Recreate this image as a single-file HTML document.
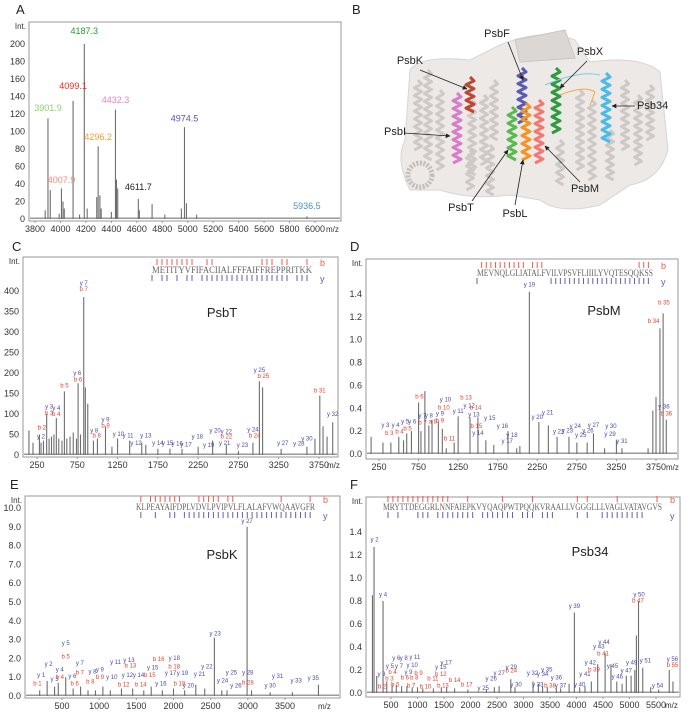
<!DOCTYPE html>
<html><head><meta charset="utf-8">
<style>
html,body{margin:0;padding:0;background:#fff;}
svg{display:block;font-family:"Liberation Sans",sans-serif;}
</style></head>
<body>
<svg id="fig" width="700" height="720" viewBox="0 0 700 720" xmlns="http://www.w3.org/2000/svg">
<rect width="700" height="720" fill="#fff"/>
<g id="structure"></g>
</svg>
<script>
// ===== Panel A data =====
const aMz  = [3880,3901.9,3920,3990,4007.9,4020,4030,4099.1,4150,4187.3,4210,4285,4296.2,4310,4320,4400,4432.3,4440,4450,4611.7,4620,4720,4820,4950,4974.5,4990,5070,5936.5];
const aInt = [10,115,33,6,35,20,12,135,5,200,12,25,83,27,12,8,125,45,35,23,10,17,5,12,105,18,5,3];
const aLabels = ["3901.9","4007.9","4099.1","4187.3","4296.2","4432.3","4611.7","4974.5","5936.5"];
const aLabelMz = [3901.9,4007.9,4099.1,4187.3,4296.2,4432.3,4611.7,4974.5,5936.5];
const aLabelInt = [120,38,145,208,87,129,30,108,8];
const aLabelColors = ["#8fcf6c","#f28a80","#e0301e","#19a032","#f0a030","#f07fc0","#222","#5555a8","#4a90c0"];
const aXTicks = [3800,4000,4200,4400,4600,4800,5000,5200,5400,5600,5800,6000];
const aYTicks = [0,20,40,60,80,100,120,140,160,180,200];

// ===== Panel C (PsbT) data =====
const cMz  = [150,200,280,300,330,370,400,430,460,490,520,560,590,620,660,700,740,760,790,830,850,880,950,1000,1100,1180,1250,1400,1550,1600,1750,1900,2050,2250,2430,2600,2750,2930,3010,3050,3280,3600,3700,3760,3800,3850,3920];
const cInt = [60,30,50,30,35,100,40,45,50,90,40,35,155,40,45,55,40,175,50,385,165,125,35,40,70,20,40,35,30,25,15,15,15,20,35,25,10,30,180,165,15,20,40,145,70,45,80];
const cLabels = ["y 2","b 2","y 3","b 3","y 4","b 4","b 5","y 6","b 6","y 7","b 7","y 8","b 8","y 9","b 9","y 10","y 11","y 12","y 13","y 14","y 15","y 16","y 17","y 18","y 19","y 20","y 21","y 22","b 22","y 23","y 24","b 24","y 25","b 25","y 27","y 28","y 30","b 31","y 32"];
const cLabelMz = [300,310,400,400,490,490,590,750,760,830,830,960,990,1100,1100,1260,1380,1480,1600,1750,1870,1990,2100,2240,2380,2460,2580,2600,2600,2800,2930,2950,3010,3060,3300,3500,3600,3760,3920];
const cLabelInt = [35,57,108,93,105,90,160,190,175,410,395,50,38,77,62,42,38,20,38,20,20,18,16,35,15,50,20,48,35,15,53,38,197,183,20,18,30,147,90];
const cXTicks = [250,750,1250,1750,2250,2750,3250,3750];
const cYTicks = [0,50,100,150,200,250,300,350,400];

// ===== Panel D (PsbM) data =====
const dMz  = [150,300,400,500,560,600,660,750,780,830,880,920,1000,1050,1100,1200,1250,1400,1500,1600,1700,1880,1990,2030,2150,2270,2390,2500,2650,2750,2880,2960,3100,3250,3320,3650,3710,3750,3800,3840,3880];
const dInt = [0.15,0.1,0.1,0.15,0.12,0.18,0.2,0.45,0.2,0.55,0.25,0.3,0.28,0.22,0.05,0.1,0.33,0.32,0.32,0.12,0.08,0.2,0.05,0.07,1.42,0.28,0.25,0.15,0.15,0.1,0.1,0.18,0.05,0.12,0.05,0.05,0.38,0.5,1.1,1.23,0.3];
const dLabels = ["y 3","b 3","y 4","b 4","y 5","b 5","y 6","b 6","y 7","b 7","y 8","a 8","y 9","b 9","y 10","b 10","b 11","y 11","b 13","y 12","b 14","y 13","b 15","y 14","y 15","y 16","y 18","y 17","y 19","y 20","y 21","y 22","y 23","y 24","y 25","y 26","y 27","y 29","y 30","y 31","b 34","b 35","y 36","b 36"];
const dLabelMz = [330,380,460,510,580,610,670,760,800,800,880,930,1020,1020,1090,1070,1140,1250,1350,1390,1470,1450,1480,1500,1650,1810,1930,1870,2150,2250,2380,2520,2630,2730,2800,2890,2960,3170,3180,3320,3720,3850,3850,3880];
const dLabelInt = [0.22,0.15,0.22,0.16,0.25,0.19,0.25,0.47,0.3,0.24,0.3,0.25,0.32,0.26,0.44,0.37,0.1,0.34,0.46,0.39,0.37,0.31,0.21,0.15,0.28,0.21,0.13,0.08,1.45,0.29,0.33,0.16,0.17,0.21,0.13,0.17,0.22,0.14,0.21,0.08,1.13,1.29,0.38,0.32];
const dXTicks = [250,750,1250,1750,2250,2750,3250,3750];
const dYTicks = [0,0.2,0.4,0.6,0.8,1.0,1.2,1.4];

// ===== Panel E (PsbK) data =====
const eMz  = [200,300,400,450,550,650,750,850,950,1050,1150,1300,1450,1600,1700,1850,2000,2150,2300,2420,2550,2650,2720,2990,3050,3300,3600,3950];
const eInt = [0.3,0.8,0.5,0.7,1.0,0.4,0.5,0.3,0.3,0.5,0.3,0.4,0.4,0.3,0.5,0.3,0.4,0.3,0.6,0.4,3.1,0.3,0.3,9.0,0.3,0.2,0.2,0.6];
const eLabels = ["b 1","y 1","y 2","y 3","y 4","b 4","y 5","b 5","y 6","b 6","y 7","b 7","b 8","y 8","y 9","b 9","y 10","y 11","b 12","y 12","y 13","b 13","y 14","b 14","b 15","y 15","b 16","y 16","y 17","b 18","y 18","y 19","b 19","y 20","y 21","y 22","y 23","y 24","y 25","y 26","y 27","y 28","b 28","y 30","y 31","y 33","y 35"];
const eLabelMz = [170,220,320,400,470,470,550,550,640,670,740,740,880,910,1010,1010,1170,1220,1330,1380,1400,1420,1530,1560,1680,1720,1800,1830,1960,2010,2010,2120,2080,2200,2350,2450,2560,2660,2780,2840,2990,3000,3000,3300,3400,3650,3880];
const eLabelInt = [0.45,0.9,1.5,0.7,1.2,0.8,2.6,1.9,0.85,0.45,1.55,1.05,0.55,1.1,1.2,0.8,0.8,1.6,0.4,0.9,1.7,1.4,0.9,0.4,0.9,1.3,1.75,0.45,1.0,1.35,1.8,1.0,0.45,0.35,0.95,1.35,3.1,0.6,1.05,0.35,9.1,1.05,0.5,0.35,0.85,0.6,0.75];
const eXTicks = [500,1000,1500,2000,2500,3000,3500];
const eYTicks = [0,1,2,3,4,5,6,7,8,9,10];

// ===== Panel F (Psb34) data =====
const fMz  = [150,180,230,350,420,520,600,700,800,900,1000,1100,1300,1450,1550,1700,1950,2300,2450,2540,2760,2840,3180,3280,3360,3450,3620,3700,3860,3960,4060,4160,4280,4400,4540,4650,4760,4860,4940,5030,5100,5130,5170,5250,5400,5550,5750,5820];
const fInt = [0.85,1.27,0.15,0.8,0.1,0.08,0.07,0.06,0.06,0.05,0.05,0.04,0.04,0.05,0.05,0.04,0.03,0.03,0.05,0.06,0.12,0.05,0.1,0.08,0.06,0.05,0.04,0.04,0.08,0.7,0.05,0.06,0.1,0.25,0.35,0.25,0.1,0.08,0.15,0.15,0.2,0.5,0.8,0.22,0.05,0.03,0.2,0.1];
const fLabels = ["y 2","y 3","b 2","y 4","y 5","b 3","b 4","y 6","y 7","b 5","y 8","b 6","y 9","b 7","y 10","b 8","y 11","b 9","b 10","b 11","y 15","b 12","y 17","b 13","b 14","b 17","y 25","y 26","y 27","y 29","b 24","y 30","y 32","y 33","y 34","y 35","b 38","y 36","y 37","y 39","y 40","y 41","y 42","b 39","y 43","y 44","b 41","y 45","y 46","y 47","y 49","y 50","b 47","y 51","y 54","y 56","b 55"];
const fLabelMz = [190,320,330,350,480,470,530,600,650,580,740,760,830,880,900,940,950,1020,1150,1290,1440,1440,1540,1480,1700,1930,2240,2390,2540,2770,2770,2860,3170,3270,3360,3440,3500,3620,3700,3960,4060,4160,4260,4330,4420,4520,4500,4680,4770,4940,5040,5180,5160,5300,5530,5810,5810];
const fLabelInt = [1.3,0.13,0.02,0.82,0.2,0.09,0.15,0.27,0.2,0.04,0.27,0.1,0.15,0.03,0.21,0.1,0.28,0.14,0.02,0.09,0.19,0.13,0.23,0.03,0.08,0.04,0.01,0.09,0.14,0.19,0.16,0.04,0.14,0.04,0.13,0.17,0.03,0.1,0.03,0.72,0.04,0.13,0.23,0.17,0.37,0.41,0.31,0.2,0.11,0.16,0.23,0.82,0.77,0.25,0.03,0.26,0.21];
const fXTicks = [500,1000,1500,2000,2500,3000,3500,4000,4500,5000,5500];
const fYTicks = [0,0.2,0.4,0.6,0.8,1.0,1.2,1.4];

const NS = "http://www.w3.org/2000/svg";
const svg = document.getElementById('fig');
function mk(tag, attrs, parent){
  const el = document.createElementNS(NS, tag);
  for (const k in attrs) el.setAttribute(k, attrs[k]);
  (parent||svg).appendChild(el);
  return el;
}
function txt(s, x, y, size, color, anchor, parent){
  const t = mk('text', {x:x, y:y, 'font-size':size, fill:color, 'text-anchor':anchor||'start'}, parent);
  t.textContent = s;
  return t;
}

function spectrum(cfg){
  const g = mk('g', {});
  
  
  const sx = v => cfg.px[0] + (v - cfg.xr[0]) / (cfg.xr[1] - cfg.xr[0]) * (cfg.px[1] - cfg.px[0]);
  const sy = v => cfg.py[0] + (v - cfg.yr[0]) / (cfg.yr[1] - cfg.yr[0]) * (cfg.py[1] - cfg.py[0]);
  const box = mk('rect', {x:cfg.box[0], y:cfg.box[1], width:cfg.box[2]-cfg.box[0], height:cfg.box[3]-cfg.box[1], fill:'none', stroke:'#999', 'stroke-width':1}, g);
  
  
  const letter = txt(cfg.letter, cfg.letterPos[0], cfg.letterPos[1], 13, '#222', 'start', g);
  
  
  const intl = txt('Int.', cfg.box[0]-3, cfg.box[1]+7, 8, '#333', 'end', g);
  
  
  const yax = mk('g', {}, g);
  
  
  cfg.yticks.forEach(v => {
    const t = txt(v.toFixed(cfg.dec), cfg.box[0]-4, sy(v)+3, 9, '#333', 'end', yax);
    
    
  });
  const xax = mk('g', {}, g);
  
  
  cfg.xticks.forEach(v => {
    const l = mk('line', {x1:sx(v), x2:sx(v), y1:cfg.box[3], y2:cfg.box[3]+2, stroke:'#999'}, xax);
    
    
    const t = txt(String(v), sx(v), cfg.box[3]+11, 9, '#333', 'middle', xax);
    
    
  });
  const mz = txt('m/z', cfg.mzPos[0], cfg.box[3]+11, 8, '#333', 'start', xax);
  
  
  const base = mk('rect', {x:cfg.box[0]+1, y:sy(cfg.yr[0])-1.5, width:cfg.box[2]-cfg.box[0]-2, height:1.5, fill:'#999'}, g);
  
  
  const pk = mk('g', {}, g);
  
  
  cfg.mzArr.forEach((m, i) => {
    const x = sx(m);
    const p = mk('line', {x1:x, x2:x, y1:sy(0), y2:sy(cfg.intArr[i]), stroke:'#6e6e6e', 'stroke-width':1.1}, pk);
    
    
  });
  const lb = mk('g', {}, g);
  
  
  cfg.labels.forEach((s, i) => {
    let col = cfg.labelColors ? cfg.labelColors[i] : (s[0]==='y' ? '#4b4ba8' : '#e8402a');
    const t = txt(s, sx(cfg.labelMz[i]), sy(cfg.labelInt[i]) - (cfg.big?3:2), cfg.labelSize, col, 'middle', lb);
    
    
  });
  if (cfg.seq){
    const sq = mk('g', {}, g);
    
    
    const s = cfg.seq, n = s.text.length, cw = (s.x1 - s.x0)/n;
    const t = mk('text', {x:s.x0, y:s.y, 'font-size':9, fill:'#666', textLength:s.x1-s.x0, lengthAdjust:'spacingAndGlyphs', 'font-family':'"Liberation Serif",serif'}, sq);
    t.textContent = s.text;
    
    
    s.b.forEach(k => { const l = mk('line', {x1:s.x0+cw*k, x2:s.x0+cw*k, y1:s.y-14, y2:s.y-8, stroke:'#f05a4a', 'stroke-width':1}, sq);   });
    s.yk.forEach(k => { const l = mk('line', {x1:s.x0+cw*k, x2:s.x0+cw*k, y1:s.y+2, y2:s.y+8, stroke:'#6a5ab0', 'stroke-width':1}, sq);   });
    const bl = txt('b', s.x1+8, s.y-7, 9, '#f05a4a', 'start', sq);
    
    
    const yl = txt('y', s.x1+8, s.y+9, 9, '#6a5ab0', 'start', sq);
    
    
  }
  if (cfg.protein){
    const p = txt(cfg.protein[0], cfg.protein[1], cfg.protein[2], 13, '#222', 'middle', g);
    
    
  }
}

spectrum({name:'panel-a-intact-mass-spectrum', letter:'A', letterPos:[16,14], box:[29,22,341,221], xr:[3800,6000], px:[35,315], yr:[0,200], py:[219,44],
  xticks:aXTicks, yticks:aYTicks, dec:0, mzArr:aMz, intArr:aInt, labels:aLabels, labelMz:aLabelMz, labelInt:aLabelInt, labelColors:aLabelColors, labelSize:9, big:true, mzPos:[326,0]});
spectrum({name:'panel-c-psbt-msms', letter:'C', letterPos:[12,251], box:[23,257,338,457], xr:[250,3750], px:[37,319], yr:[0,400], py:[455,291],
  xticks:cXTicks, yticks:cYTicks, dec:0, mzArr:cMz, intArr:cInt, labels:cLabels, labelMz:cLabelMz, labelInt:cLabelInt, labelSize:6, mzPos:[327,0],
  seq:{text:'METITYVFIFACIIALFFFAIFFREPPRITKK', x0:152, x1:312, y:273, b:[1,2,3,4,5,6,7,8,11,12,22,23,24,26,27,31], yk:[0,2,3,5,7,8,10,11,12,13,14,15,16,17,18,19,20,21,22,23,24,25,26,27,29,30,31]},
  protein:['PsbT',222,317]});
spectrum({name:'panel-d-psbm-msms', letter:'D', letterPos:[350,251], box:[366,259,678,459], xr:[250,3750], px:[379,656], yr:[0,1.4], py:[454,294],
  xticks:dXTicks, yticks:dYTicks, dec:1, mzArr:dMz, intArr:dInt, labels:dLabels, labelMz:dLabelMz, labelInt:dLabelInt, labelSize:6, mzPos:[666,0],
  seq:{text:'MEVNQLGLIATALFVILVPSVFLIIILYVQTESQQKSS', x0:477, x1:653, y:276, b:[1,2,3,4,5,6,7,8,9,10,12,13,14,35,36,37], yk:[0,16,17,18,19,20,21,22,23,24,25,26,27,28,29,30,31,32,33,34,35,36,37]},
  protein:['PsbM',604,315]});
spectrum({name:'panel-e-psbk-msms', letter:'E', letterPos:[10,489], box:[25,496,340,698], xr:[500,3500], px:[62,285], yr:[0,10], py:[696,508],
  xticks:eXTicks, yticks:eYTicks, dec:1, mzArr:eMz, intArr:eInt, labels:eLabels, labelMz:eLabelMz, labelInt:eLabelInt, labelSize:6, mzPos:[318,0],
  seq:{text:'KLPEAYAIFDPLVDVLPVIPVLFLALAFVWQAAVGFR', x0:136, x1:315, y:510, b:[1,3,4,5,6,7,8,9,13,14,15,16,17,19,20,30,36], yk:[1,4,7,8,10,11,12,13,14,15,16,17,18,19,20,21,22,23,24,25,26,27,28,29,30,31,32,33,34,35,36]},
  protein:['PsbK',222,559]});
spectrum({name:'panel-f-psb34-msms', letter:'F', letterPos:[350,489], box:[366,497,680,697], xr:[500,5500], px:[391,656], yr:[0,1.4], py:[693,532],
  xticks:fXTicks, yticks:fYTicks, dec:1, mzArr:fMz, intArr:fInt, labels:fLabels, labelMz:fLabelMz, labelInt:fLabelInt, labelSize:6, mzPos:[665,0],
  seq:{text:'MRYTTDEGGRLNNFAIEPKVYQAQPWTPQQKVRAALLVGGGLLLVAGLVATAVGVS', x0:383, x1:662, y:510, b:[1,2,3,4,5,6,7,8,9,10,11,12,13,17,24,30,39,41,47,55], yk:[1,3,7,8,9,11,12,13,14,15,16,17,18,20,21,22,23,24,25,26,28,29,30,32,33,34,39,41,44,45,46,47,48,49,50,51,52]},
  protein:['Psb34',590,556]});

// ===== Panel B: structure (illustration) =====
const st = document.getElementById('structure');
const bl = txt('B', 352, 14, 13, '#222', 'start', st);


const body = mk('g', {opacity:0.9}, st);


mk('path', {d:'M410,70 Q420,55 470,60 L500,45 Q540,28 575,40 L590,62 Q640,55 660,72 L668,150 Q660,180 630,185 L600,205 Q560,215 540,200 L510,195 Q470,200 440,190 L410,190 Q395,160 405,140 Z', fill:'#ebe7e5', stroke:'#d6d0cd'}, body);
function helix(x, y0, y1, col, w){
  let d = `M${x},${y0}`; const n = Math.round((y1-y0)/4);
  for (let i=1;i<=n;i++){ d += ` L${x + (i%2? w : -w)},${y0 + i*(y1-y0)/n}`; }
  return mk('path', {d:d, fill:'none', stroke:col, 'stroke-width':3, 'stroke-linejoin':'round'}, body);
}
const grayX = [418,428,440,472,484,494,560,580,592,625,638,650,470,490,610];
const grayY = [[80,150],[70,160],[90,170],[100,175],[95,165],[80,140],[140,185],[90,170],[100,180],[80,150],[95,165],[85,140],[150,190],[145,195],[130,180]];
grayX.forEach((x,i)=>{ const h = helix(x, grayY[i][0], grayY[i][1], '#c9c3c0', 3.5);   });
const coil = mk('circle', {cx:420, cy:175, r:12, fill:'none', stroke:'#bdb6b3', 'stroke-width':5, 'stroke-dasharray':'2 1.5'}, body);


const sheet = mk('path', {d:'M515,40 L565,30 L575,58 L520,62 Z', fill:'#d8d3d0', stroke:'#c6c0bd'}, body);


const cols = [['psbk-helix',470,77,112,'#b8321e'],['psbi-helix',457,93,163,'#d36fc6'],['psbf-helix',522,68,123,'#4a4aa8'],['psbt-helix',512,107,160,'#48b43c'],['psbl-helix',526,103,160,'#f08a10'],['psbm-helix',539,100,163,'#f26a62'],['psbx-helix',556,68,133,'#19902a'],['psb34-helix',606,73,142,'#3ab4e4']];
cols.forEach(c => { const h = helix(c[1], c[2], c[3], c[4], 4);   });
const loop1 = mk('path', {d:'M545,85 Q580,70 600,75', fill:'none', stroke:'#6cc4ea', 'stroke-width':1}, body);


const loop2 = mk('path', {d:'M560,95 Q585,85 595,92 L590,105', fill:'none', stroke:'#f0a030', 'stroke-width':1}, body);


mk('defs', {}, svg).innerHTML = '<marker id="ah" viewBox="0 0 10 10" refX="9" refY="5" markerWidth="6" markerHeight="6" orient="auto"><path d="M0,0 L10,5 L0,10 Z" fill="#222"/></marker>';
const ann = [['PsbK',410,64,'middle',420,70,467,89],['PsbF',497,37,'middle',508,42,523,80],['PsbX',590,55,'middle',587,61,560,88],['Psb34',637,109,'start',635,106,612,106],['PsbI',384,135,'start',404,133,450,136],['PsbT',461,211,'middle',472,201,508,150],['PsbL',515,217,'middle',515,205,523,160],['PsbM',585,192,'middle',580,182,545,146]];
ann.forEach(a => {
  const t = txt(a[0], a[1], a[2], 11, '#222', a[3], st);
  
  
  const l = mk('line', {x1:a[4], y1:a[5], x2:a[6], y2:a[7], stroke:'#222', 'stroke-width':0.8, 'marker-end':'url(#ah)'}, st);
  
  
});
</script>
</body></html>
